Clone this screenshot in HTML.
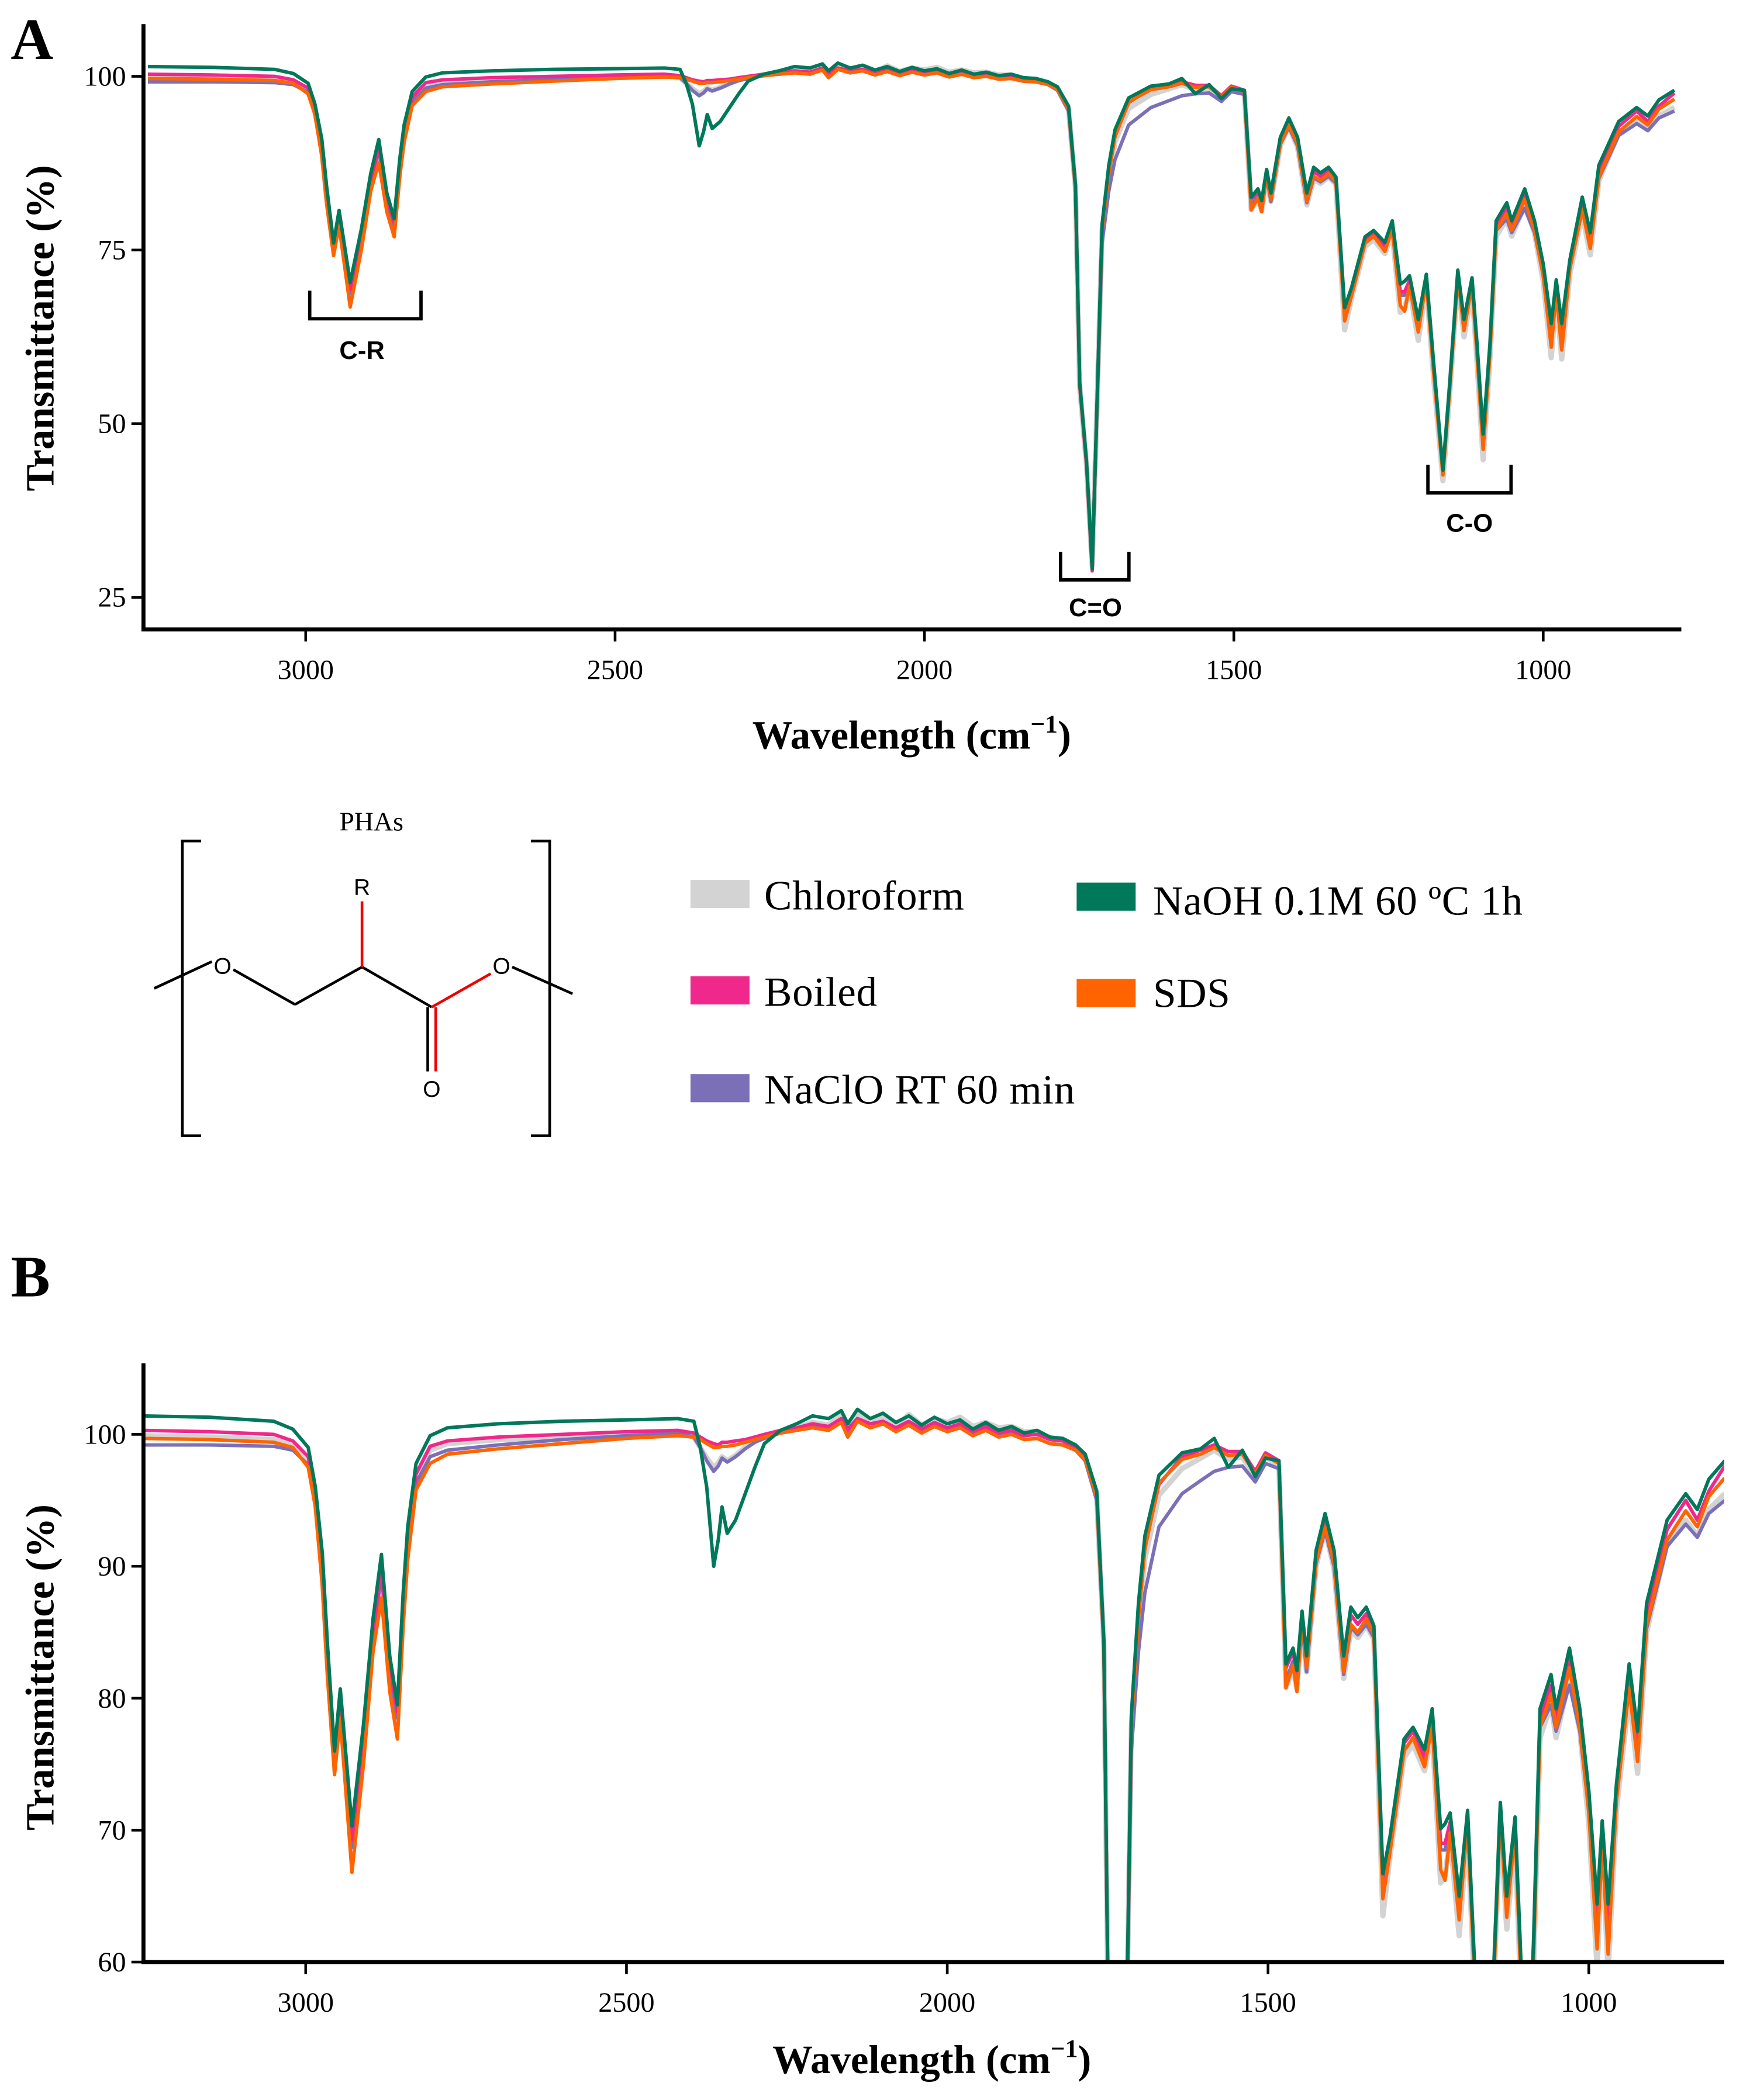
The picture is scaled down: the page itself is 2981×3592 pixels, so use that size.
<!DOCTYPE html>
<html><head><meta charset="utf-8">
<style>
html,body{margin:0;padding:0;background:#fff;width:2981px;height:3592px;overflow:hidden;}
svg{display:block;}
.tick{font-family:"Liberation Serif",serif;font-size:21px;fill:#000;}
.ttl{font-family:"Liberation Serif",serif;font-size:30px;font-weight:bold;fill:#000;}
.ann{font-family:"Liberation Sans",sans-serif;font-size:19px;font-weight:bold;fill:#000;}
.leg{font-family:"Liberation Serif",serif;font-size:31px;fill:#000;letter-spacing:0.3px;}
.mol{font-family:"Liberation Sans",sans-serif;font-size:17px;fill:#000;}
</style></head>
<body>
<svg id="fig" width="2981" height="3592" viewBox="0 0 1300 1568" preserveAspectRatio="none" xmlns="http://www.w3.org/2000/svg">
<defs>
<clipPath id="clipA"><rect x="108" y="18" width="1146" height="451"/></clipPath>
<clipPath id="clipB"><rect x="108" y="1018" width="1178" height="446"/></clipPath>
</defs>
<text x="8" y="44" style="font-family:'Liberation Serif',serif;font-size:44px;font-weight:bold">A</text>
<text x="8" y="968" style="font-family:'Liberation Serif',serif;font-size:44px;font-weight:bold">B</text>
<g id="panelA"></g>
<g id="panelB"></g>

<g>
<polyline points="231,217 231,238 314,238 314,217" fill="none" stroke="#000" stroke-width="2.5"/>
<text class="ann" x="270" y="268" text-anchor="middle">C-R</text>
</g>
<g>
<polyline points="791,412 791,433 842,433 842,412" fill="none" stroke="#000" stroke-width="2.5"/>
<text class="ann" x="817" y="460" text-anchor="middle">C=O</text>
</g>
<g>
<polyline points="1065,347 1065,368 1127,368 1127,347" fill="none" stroke="#000" stroke-width="2.5"/>
<text class="ann" x="1096" y="397" text-anchor="middle">C-O</text>
</g>

<g>
<text x="277" y="620" text-anchor="middle" style="font-family:'Liberation Serif',serif;font-size:20px">PHAs</text>
<polyline points="150,628 136,628 136,848 150,848" fill="none" stroke="#000" stroke-width="2"/>
<polyline points="396,628 410,628 410,848 396,848" fill="none" stroke="#000" stroke-width="2"/>
<line x1="115" y1="738" x2="158" y2="718" stroke="#000" stroke-width="2"/>
<text class="mol" x="166" y="727" text-anchor="middle">O</text>
<line x1="174" y1="724" x2="220" y2="750" stroke="#000" stroke-width="2"/>
<line x1="220" y1="750" x2="270" y2="722" stroke="#000" stroke-width="2"/>
<line x1="270" y1="722" x2="322" y2="752" stroke="#000" stroke-width="2"/>
<line x1="270" y1="722" x2="270" y2="673" stroke="#e00" stroke-width="2"/>
<text class="mol" x="270" y="668" text-anchor="middle">R</text>
<line x1="322" y1="752" x2="366" y2="727" stroke="#e00" stroke-width="2"/>
<text class="mol" x="374" y="727" text-anchor="middle">O</text>
<line x1="382" y1="722" x2="427" y2="742" stroke="#000" stroke-width="2"/>
<line x1="319" y1="752" x2="319" y2="800" stroke="#000" stroke-width="2"/>
<line x1="325" y1="752" x2="325" y2="800" stroke="#e00" stroke-width="2"/>
<text class="mol" x="322" y="819" text-anchor="middle">O</text>
</g>

<g>
<g><rect x="515" y="657" width="44" height="21" fill="#d3d3d3"/><text class="leg" x="570" y="679">Chloroform</text></g>
<g><rect x="515" y="729" width="44" height="21" fill="#f0288c"/><text class="leg" x="570" y="751">Boiled</text></g>
<g><rect x="515" y="802" width="44" height="21" fill="#7b70b8"/><text class="leg" x="570" y="824">NaClO RT 60 min</text></g>
<g><rect x="803" y="659" width="44" height="21" fill="#00785a"/><text class="leg" x="860" y="683">NaOH 0.1M 60 ºC 1h</text></g>
<g><rect x="803" y="731" width="44" height="21" fill="#ff6400"/><text class="leg" x="860" y="752">SDS</text></g>
</g>
</svg>
<script>
const wavenumbers=[3255,3150,3050,3020,2996,2985,2974,2966,2955,2946,
2928,2910,2895,2882,2869,2857,2848,2841,2828,2806,
2779,2700,2600,2500,2420,2395,2385,2375,2364,2357,
2351,2343,2330,2315,2300,2285,2260,2235,2210,2185,
2165,2155,2140,2120,2100,2080,2060,2040,2020,2000,
1980,1960,1940,1920,1900,1880,1860,1840,1820,1800,
1785,1767,1756,1749,1738,1729,1722,1713,1702,1692,
1670,1634,1605,1584,1562,1540,1520,1504,1483,1472,
1461,1455,1447,1440,1425,1411,1397,1382,1371,1360,
1347,1335,1321,1310,1288,1274,1256,1244,1231,1224,
1216,1202,1189,1177,1162,1151,1138,1128,1115,1107,
1097,1086,1076,1059,1051,1030,1014,1000,987,979,
970,957,937,924,910,878,849,831,813,788];
const chloroform=[99.9,99.8,99.6,99.2,98,95,89.5,82.5,75.3,79,
68.3,76.5,84.5,89.3,82,78.5,86.5,91.6,96.6,98.8,
99.3,99.6,99.8,100,100.1,99.8,99.0,98.2,97.5,97.8,
98.3,98.0,98.4,99,99.5,99.8,100.2,100.5,100.9,100.7,
101.5,100.5,101.5,100.9,101.3,100.6,101.5,100.7,101.2,100.9,
101.3,100.6,100.9,100.5,100.6,100.2,100.2,99.7,99.5,99.0,
98.2,95.2,84,55.3,44,29.5,50,77.8,85.5,90.6,
95.4,97.4,98.2,98.8,98.1,98.3,96.8,98.3,97.6,80.8,
82.3,80.7,85.5,82,90,92.8,89.8,81.5,85.2,84.6,
85.5,84.5,63.5,68,75.5,76.5,74.5,77.5,66,66.5,
69.5,62,70,56.5,41.8,54.5,70.8,62.5,69.3,59,
44.8,59.5,77,79.5,77,81.5,77.5,70.5,59.5,68.5,
59.3,71.5,80.2,74.3,85,91.8,93.5,92.3,94.3,95.5];
const naclo=[99.2,99.2,99.1,98.8,97.7,94.7,89,82,75.2,79,
68.7,76.5,84.5,89.5,82,78.5,86.5,91.3,96.3,98.3,
98.8,99.2,99.6,99.9,100.1,99.8,99.0,98,97.2,97.6,
98.2,97.9,98.3,98.9,99.4,99.7,100.1,100.3,100.6,100.4,
101.0,100.0,101.1,100.5,100.9,100.3,100.9,100.2,100.7,100.3,
100.6,100.0,100.4,99.9,100.1,99.6,99.7,99.3,99.2,98.8,
98.0,95.0,83.8,55.5,44.2,29.8,49.5,76,83.5,88,
93,95.5,96.5,97.2,97.5,97.6,96.4,97.8,97.4,81.3,
82.8,80.8,85.6,82,90.2,92.7,90,81.8,85.4,84.8,
85.6,84.6,65.7,68.6,76,77,75.3,77.8,68.5,68.5,
70.3,63.5,70.6,57.8,43,55.5,71.3,64,70.2,61,
47.8,60.8,77.8,79.5,77.5,81,77.5,71.5,62.5,69.5,
62.5,72.5,80.8,75.8,85.3,91.5,93.2,92.2,94.0,95.0];
const boiled=[100.3,100.2,100.0,99.5,98.3,95.3,90,83,76,79.5,
69.3,77,85,89.8,82.5,79,87,92,97,99.1,
99.5,99.8,100,100.2,100.3,100.1,99.8,99.5,99.3,99.2,
99.4,99.4,99.5,99.6,99.8,100,100.3,100.5,100.8,100.6,
101.2,100.4,101.2,100.8,101.0,100.5,101.0,100.4,100.9,100.5,
100.8,100.2,100.6,100.1,100.3,99.9,100.0,99.6,99.5,99.0,
98.3,95.5,84.2,55.5,44,28.8,50,78.3,86.5,91.5,
96.2,98.3,98.8,99.2,98.7,98.7,97.2,98.6,98.0,82.3,
83.5,81.8,86.2,83,90.5,93.3,90.6,82.6,86.3,85.6,
86.4,85,66,69,76.6,77.5,75.5,78.6,69,69,
70.6,64.5,71,58.2,43,55.5,71.8,64.5,70.5,61,
48,61,78.5,81,78.3,83,78.6,72.3,63,70,
62.5,73,82,76.5,86.5,92.8,95,93.5,95.7,97.6];
const sds=[99.7,99.6,99.4,99,97.5,94.5,88.5,81.5,74.2,78.5,
66.8,75,83.5,87.6,80.5,76.9,85.5,90.5,95.8,97.8,
98.5,98.9,99.3,99.7,99.9,99.8,99.6,99.3,99.0,99.0,
99.1,99.1,99.2,99.4,99.6,99.8,100.1,100.3,100.5,100.3,
100.9,99.8,101.0,100.5,100.8,100.2,100.7,100.1,100.6,100.2,
100.5,99.9,100.3,99.8,100.0,99.6,99.7,99.3,99.2,98.8,
98.1,95.3,84,55.7,44.3,29.3,50,78,86,91.3,
96.3,98.1,98.5,99.0,98.4,98.5,97,98.4,97.8,80.8,
82.5,80.5,85.8,82.3,90.3,93.0,90.3,82.0,85.6,85.0,
86.0,84.8,64.8,68.3,76,77,74.8,78,67,66.2,
69.8,63.2,70.6,57.3,42.6,55,71.2,63.4,70,60,
46.3,60.2,77.8,80.3,77.8,82.3,77.8,71.3,61,69,
60.6,72.2,80.8,75.2,85.5,92.0,94.2,93.0,95.3,96.7];
const naoh=[101.4,101.3,101.0,100.4,99,96,91,84,76,80.7,
70.3,78,86,90.9,83.2,79.5,88,93,97.8,99.9,
100.5,100.8,101,101.1,101.2,101,99,96,90,92,
94.5,92.5,93.5,95.5,97.5,99.3,100.3,100.8,101.4,101.2,
101.8,100.8,101.9,101.2,101.6,100.9,101.4,100.7,101.3,100.8,
101.1,100.4,100.9,100.3,100.6,100.1,100.3,99.8,99.7,99.2,
98.5,95.7,84.4,55.9,44.5,29.1,50.2,78.7,87.2,92.3,
96.9,98.6,98.9,99.7,97.5,98.8,96.8,98.2,98.0,82.6,
83.8,82.1,86.6,83.2,91.2,94.0,91.2,83.2,86.9,86.1,
86.9,85.5,66.7,69.5,76.9,77.8,76.1,79.2,70.1,70.5,
71.3,65.0,71.5,58.7,43.3,55.9,72.1,65.0,71.0,61.6,
48.5,61.6,79.2,81.8,79.2,83.8,79.2,73.0,64.4,70.7,
64.4,73.5,82.6,77.5,87.2,93.5,95.5,94.3,96.6,98.0];
const xTicks=[3000,2500,2000,1500,1000];
const yTicksA=[100,75,50,25];
const yTicksB=[100,90,80,70,60];
const seriesNames=["chloroform","naclo","boiled","sds","naoh"];
const seriesData=[chloroform,naclo,boiled,sds,naoh];
const seriesColors=["#d3d3d3","#7b70b8","#f0288c","#ff6400","#00785a"];
const seriesWidths=[4,2.6,2.6,2.6,2.6];

const NS="http://www.w3.org/2000/svg";
function mk(tag,attrs,parent){const e=document.createElementNS(NS,tag);for(const k in attrs)e.setAttribute(k,attrs[k]);parent.appendChild(e);return e;}

function drawPanel(g,cfg){
  const xs=w=>cfg.x0+(cfg.xw0-w)*(cfg.x1-cfg.x0)/(cfg.xw0-cfg.xw1);
  const ys=v=>cfg.yb+(cfg.v0-v)*(cfg.yt-cfg.yb)/(cfg.v0-cfg.v1);
  const lines=mk('g',{'clip-path':'url(#'+cfg.clip+')'},g);
  
  
  seriesData.forEach((arr,si)=>{
    let d='';
    arr.forEach((v,i)=>{d+=(i?'L':'M')+xs(wavenumbers[i]).toFixed(1)+','+ys(v).toFixed(1);});
    const p=mk('path',{d:d,fill:'none',stroke:seriesColors[si],'stroke-width':seriesWidths[si],'stroke-linejoin':'round'},lines);
    
    
  });
  const ax=mk('g',{},g);
  
  
  const yl=mk('line',{x1:cfg.axL,y1:cfg.axT,x2:cfg.axL,y2:cfg.axB,stroke:'#000','stroke-width':3},ax);
  
  
  const xl=mk('line',{x1:cfg.axL-1.5,y1:cfg.axB,x2:cfg.axR,y2:cfg.axB,stroke:'#000','stroke-width':3},ax);
  
  
  cfg.yTicks.forEach(t=>{
    const y=ys(t);
    mk('line',{x1:cfg.axL-9,y1:y,x2:cfg.axL,y2:y,stroke:'#000','stroke-width':2},ax);
    const tx=mk('text',{x:cfg.axL-13,y:y+7,'text-anchor':'end',class:'tick'},ax);
    tx.textContent=t;
    
    
  });
  xTicks.forEach(t=>{
    const x=xs(t);
    mk('line',{x1:x,y1:cfg.axB,x2:x,y2:cfg.axB+9,stroke:'#000','stroke-width':2},ax);
    const tx=mk('text',{x:x,y:cfg.axB+37,'text-anchor':'middle',class:'tick'},ax);
    tx.textContent=t;
    
    
  });
  const yt=mk('text',{x:0,y:0,'text-anchor':'middle',class:'ttl',transform:'translate(40,'+cfg.ytY+') rotate(-90)'},g);
  yt.textContent='Transmittance (%)';
  
  
  const xt=mk('text',{x:cfg.xtX,y:cfg.xtY,'text-anchor':'middle',class:'ttl'},g);
  xt.innerHTML='Wavelength (cm<tspan dy="-12" font-size="19">−1</tspan><tspan dy="12">)</tspan>';
  
  
}
drawPanel(document.getElementById('panelA'),{x0:228,x1:1151,xw0:3000,xw1:1000,yb:446,yt:57,v0:25,v1:100,
  clip:'clipA',axL:107,axR:1254,axT:18,axB:470,yTicks:yTicksA,ytY:245,xtX:680,xtY:559});
drawPanel(document.getElementById('panelB'),{x0:228,x1:1185,xw0:3000,xw1:1000,yb:1465,yt:1071,v0:60,v1:100,
  clip:'clipB',axL:107,axR:1286,axT:1018,axB:1465,yTicks:yTicksB,ytY:1245,xtX:695,xtY:1548});
</script>
</body></html>
